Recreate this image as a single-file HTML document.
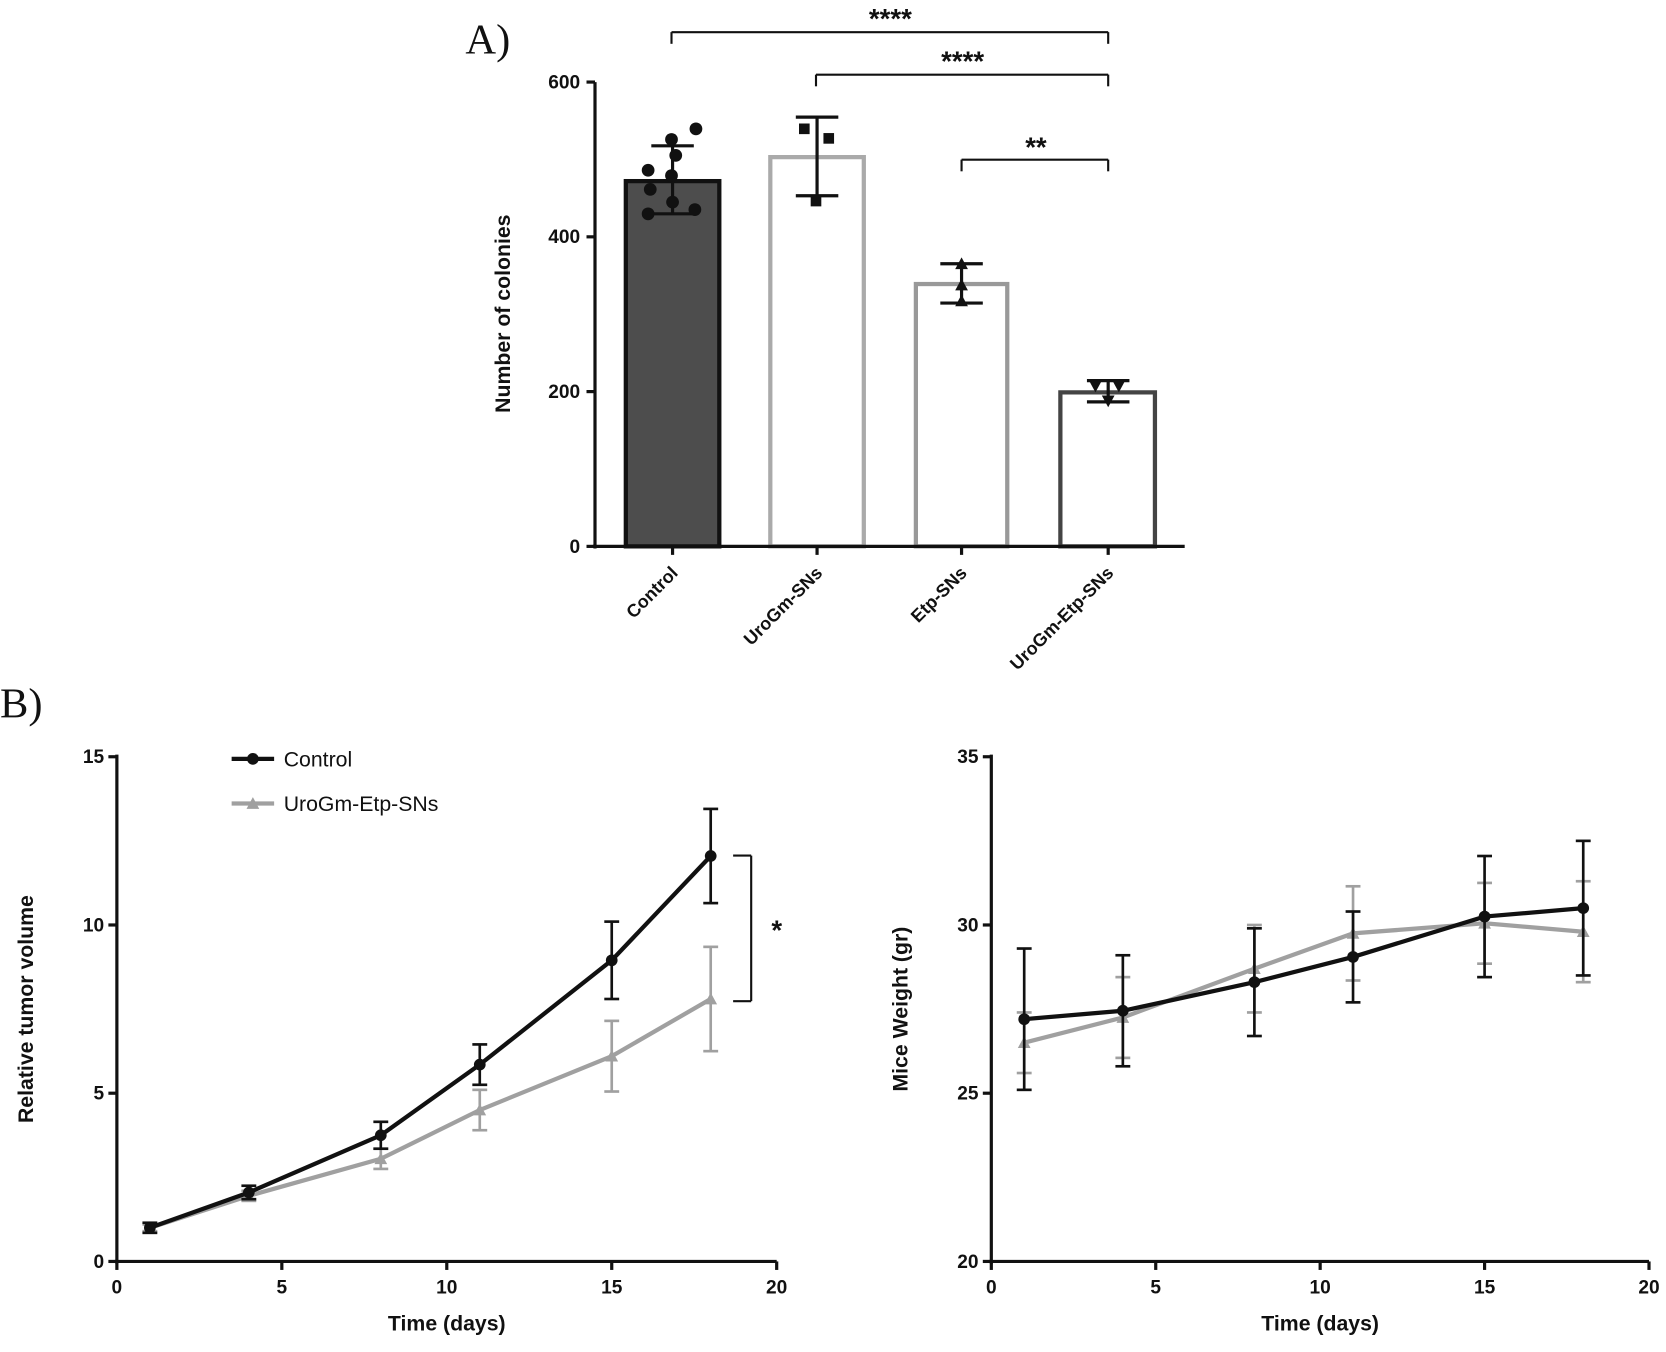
<!DOCTYPE html>
<html><head><meta charset="utf-8"><style>
html,body{margin:0;padding:0;background:#fff;}
svg{display:block;}
text{font-family:"Liberation Sans",Arial,sans-serif;font-weight:bold;fill:#111;}
</style></head><body>
<svg id="s" width="1666" height="1352" viewBox="0 0 1568 1272" xmlns="http://www.w3.org/2000/svg">
<rect width="1568" height="1272" fill="#fff"/>
<text x="438" y="50" style="font-family:'Liberation Serif',serif;font-weight:normal;font-size:40px">A)</text>
<text x="0" y="675" style="font-family:'Liberation Serif',serif;font-weight:normal;font-size:40px">B)</text>
<g id="g"></g>
</svg>
<script>
var g=document.getElementById('g'),h='';
function L(x1,y1,x2,y2,c,w){h+='<line x1="'+x1+'" y1="'+y1+'" x2="'+x2+'" y2="'+y2+'" stroke="'+(c||'#111')+'" stroke-width="'+(w||3)+'"/>';}
function T(x,y,t,s,a,extra){h+='<text x="'+x+'" y="'+y+'" font-size="'+s+'" text-anchor="'+(a||'middle')+'" '+(extra||'')+'>'+t+'</text>';}
var ay=function(v){return 514-v*437/600;};
[[589,677,472,'#4d4d4d','#111'],[725,813,503,'#fff','#aaa'],[862,948,339,'#fff','#999'],[998,1087,199,'#fff','#444']].forEach(function(b){
 h+='<rect x="'+b[0]+'" y="'+ay(b[2])+'" width="'+(b[1]-b[0])+'" height="'+(514-ay(b[2]))+'" fill="'+b[3]+'" stroke="'+b[4]+'" stroke-width="4"/>';});
L(560,77,560,516);L(558,514,1115,514);
[0,200,400,600].forEach(function(v){L(552,ay(v),560,ay(v));T(546,ay(v)+6,v,18,'end');});
[633,769,905,1043].forEach(function(x){L(x,514,x,522);});
function EB(x,a,b){L(x,a,x,b);L(x-20,a,x+20,a);L(x-20,b,x+20,b);}
EB(633,137,201);EB(769,110,184);EB(905,248,285);EB(1043,358,378);
[[655,121],[632,131],[636,146],[610,160],[632,165],[612,178],[610,201],[633,190],[654,197]].forEach(function(p){h+='<circle cx="'+p[0]+'" cy="'+p[1]+'" r="6" fill="#111"/>';});
[[757,121],[780,130],[768,189]].forEach(function(p){h+='<rect x="'+(p[0]-5)+'" y="'+(p[1]-5)+'" width="10" height="10" fill="#111"/>';});
[[905,248],[905,268],[905,283]].forEach(function(p){h+='<polygon points="'+p[0]+','+(p[1]-6)+' '+(p[0]-6)+','+(p[1]+5)+' '+(p[0]+6)+','+(p[1]+5)+'" fill="#111"/>';});
[[1031,363],[1053,363],[1043,377]].forEach(function(p){h+='<polygon points="'+p[0]+','+(p[1]+6)+' '+(p[0]-6)+','+(p[1]-5)+' '+(p[0]+6)+','+(p[1]-5)+'" fill="#111"/>';});
function BR(x1,x2,y){L(x1,y,x2,y,'#111',2);L(x1,y,x1,y+11,'#111',2);L(x2,y,x2,y+11,'#111',2);}
BR(632,1043,30);BR(768,1043,70);BR(905,1043,150);
T(838,26,'****',26);T(906,66,'****',26);T(975,147,'**',26);
T(480,295,'Number of colonies',20,'middle','transform="rotate(-90 480 295)"');
[['Control',633],['UroGm-SNs',769],['Etp-SNs',905],['UroGm-Etp-SNs',1043]].forEach(function(l){
 var x=l[1]+6,y=540;T(x,y,l[0],17,'end','transform="rotate(-45 '+x+' '+y+')"');});
function panel(x0,xr,ymin,ymax,ylabel,series,ticksY){
 var X=function(d){return x0+d*(xr-x0)/20;},Y=function(v){return 1187-(v-ymin)*475/(ymax-ymin);};
 L(x0,710,x0,1189);L(x0-2,1187,xr,1187);
 ticksY.forEach(function(v){L(x0-8,Y(v),x0,Y(v));T(x0-12,Y(v)+6,v,18,'end');});
 [0,5,10,15,20].forEach(function(d){L(X(d),1187,X(d),1195);T(X(d),1217,d,18);});
 T((x0+xr)/2,1252,'Time (days)',20);
 var ly=(Y(ymin)+Y(ymax))/2;var lx=x0-79;
 T(lx,ly,ylabel,20,'middle','transform="rotate(-90 '+lx+' '+ly+')"');
 var days=[1,4,8,11,15,18];
 series.forEach(function(s){
  var pts=days.map(function(d,i){return X(d)+','+Y(s.v[i]);}).join(' ');
  days.forEach(function(d,i){var x=X(d);EB2(x,Y(s.v[i]+s.e[i]),Y(s.v[i]-s.e[i]),s.c);});
  h+='<polyline points="'+pts+'" fill="none" stroke="'+s.c+'" stroke-width="4"/>';
  days.forEach(function(d,i){mk(X(d),Y(s.v[i]),s);});
 });
}
function EB2(x,a,b,c){L(x,a,x,b,c,2.5);L(x-7,a,x+7,a,c,2.5);L(x-7,b,x+7,b,c,2.5);}
function mk(x,y,s){if(s.m=='c')h+='<circle cx="'+x+'" cy="'+y+'" r="5.5" fill="'+s.c+'"/>';
 else h+='<polygon points="'+x+','+(y-6)+' '+(x-6)+','+(y+5)+' '+(x+6)+','+(y+5)+'" fill="'+s.c+'"/>';}
var gray={c:'#a0a0a0',m:'t',v:[1.0,1.95,3.05,4.5,6.1,7.8],e:[0.1,0.15,0.3,0.6,1.05,1.55]};
var blk={c:'#111',m:'c',v:[1.0,2.05,3.75,5.85,8.95,12.05],e:[0.15,0.2,0.4,0.6,1.15,1.4]};
panel(110,731,0,15,'Relative tumor volume',[gray,blk],[0,5,10,15]);
var gray2={c:'#a0a0a0',m:'t',v:[26.5,27.25,28.7,29.75,30.05,29.8],e:[0.9,1.2,1.3,1.4,1.2,1.5]};
var blk2={c:'#111',m:'c',v:[27.2,27.45,28.3,29.05,30.25,30.5],e:[2.1,1.65,1.6,1.35,1.8,2.0]};
panel(933,1552,20,35,'Mice Weight (gr)',[gray2,blk2],[20,25,30,35]);
L(707,805,707,942,'#111',2);L(690,805,707,805,'#111',2);L(690,942,707,942,'#111',2);
T(731,884,'*',26);
L(218,714,258,714,'#111',4);mk(238,714,blk);
h+='<text x="267" y="721" font-size="20" style="font-weight:normal">Control</text>';
L(218,756,258,756,'#a0a0a0',4);mk(238,756,gray);
h+='<text x="267" y="763" font-size="20" style="font-weight:normal">UroGm-Etp-SNs</text>';
g.innerHTML=h;
</script>
</body></html>
